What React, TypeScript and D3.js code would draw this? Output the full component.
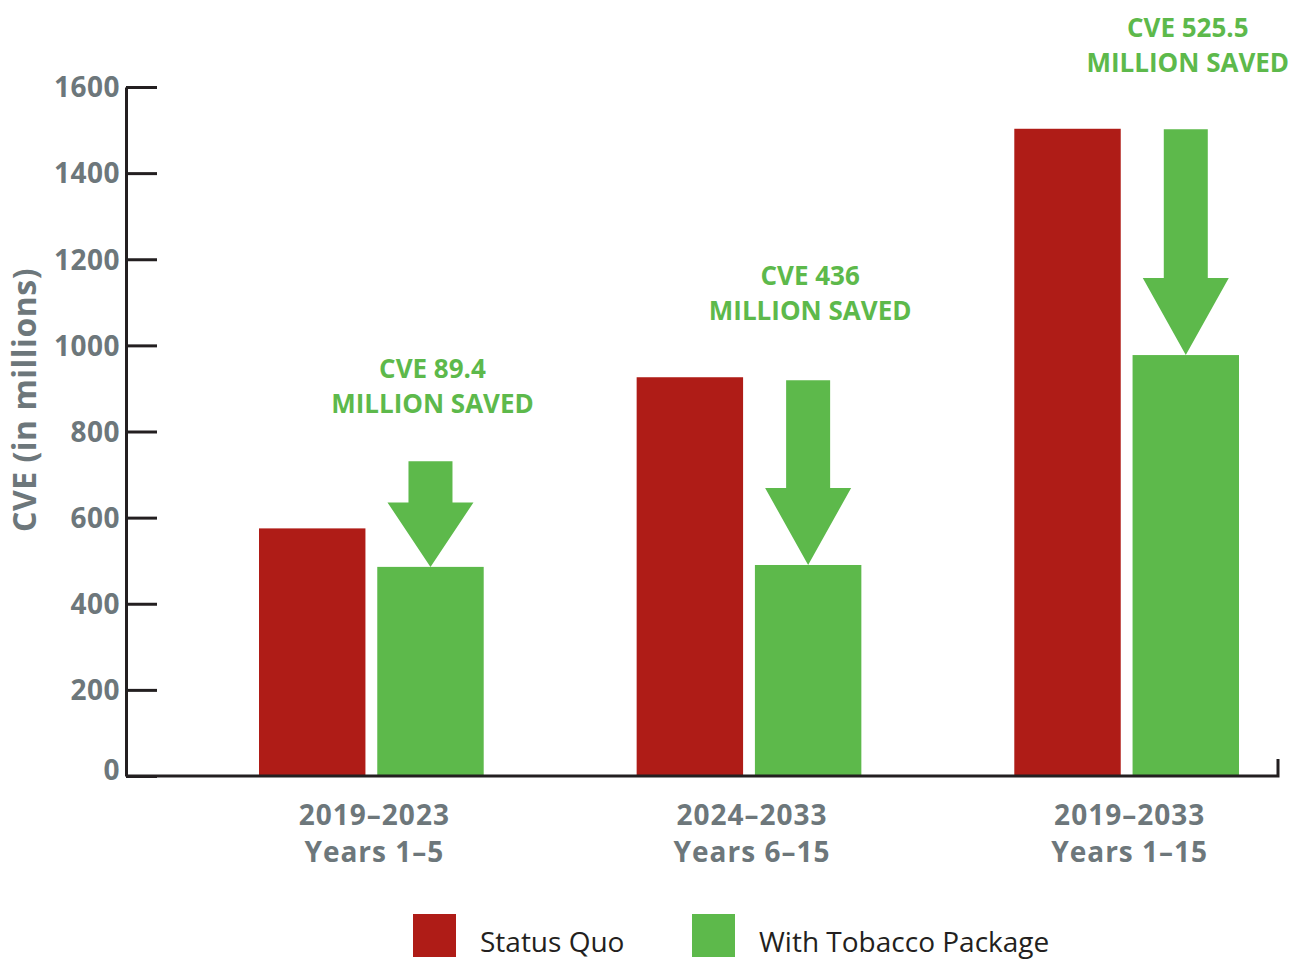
import { useEffect, useRef } from "react";
import * as d3 from "d3";

const groups = ["2019–2023", "2024–2033", "2019–2033"];
const periods = ["Years 1–5", "Years 6–15", "Years 1–15"];
const series = ["Status Quo", "With Tobacco Package"];
const statusQuo = [575, 926, 1503];
const withPackage = [485.6, 490, 977.5];
const arrowFrom = [731, 919, 1502];
const savedAmount = ["CVE 89.4", "CVE 436", "CVE 525.5"];
const yTicks = [0, 200, 400, 600, 800, 1000, 1200, 1400, 1600];

const colors = ["#af1c17", "#5db94b"];
const gray = "#6d777b";
const ink = "#231f20";

const App = () => {
  const svgRef = useRef<SVGSVGElement>(null);

  useEffect(() => {
    const svg = d3.select(svgRef.current);
    svg.selectAll("*").remove();

    const width = 1301;
    const height = 960;
    const axisX = 126;
    const axisRight = 1278;
    // gap between arrow top and the "MILLION SAVED" line, per group
    const labelGap = [48, 60, 57];

    // y scale: 0 at the baseline, 1600 at the top tick
    const y = d3.scaleLinear().domain([0, 1600]).range([776, 87]);
    const x0 = d3.scaleBand().domain(groups).range([259, 1239]).paddingInner(0.405).paddingOuter(0);
    const x1 = d3.scaleBand().domain(series).range([0, x0.bandwidth()]).paddingInner(0.1);

    svg.attr("width", width).attr("height", height);

    const rows = groups.map((g, i) => ({
      group: g,
      period: periods[i],
      values: [statusQuo[i], withPackage[i]],
      from: arrowFrom[i],
      saved: savedAmount[i],
      gap: labelGap[i],
    }));

    // bars
    const g = svg
      .selectAll("g.grp")
      .data(rows)
      .enter()
      .append("g")
      .attr("class", "grp")
      .attr("transform", (d) => `translate(${x0(d.group)},0)`);

    g.selectAll("rect")
      .data((d) => d.values.map((v, j) => ({ key: series[j], v, j })))
      .enter()
      .append("rect")
      .attr("x", (d) => x1(d.key)!)
      .attr("y", (d) => y(d.v))
      .attr("width", x1.bandwidth())
      .attr("height", (d) => y(0) - y(d.v))
      .attr("fill", (d) => colors[d.j]);

    // arrows from status quo level down to the package bar
    const shaftW = 44;
    const headW = 86;
    g.append("path")
      .attr("fill", colors[1])
      .attr("d", (d) => {
        const cx = x1(series[1])! + x1.bandwidth() / 2;
        const top = y(d.from);
        const tip = y(d.values[1]);
        const headH = Math.min(77, (tip - top) * 0.61);
        const neck = tip - headH;
        return `M${cx - shaftW / 2},${top}H${cx + shaftW / 2}V${neck}H${cx + headW / 2}L${cx},${tip}L${cx - headW / 2},${neck}H${cx - shaftW / 2}Z`;
      });

    const ann = g
      .append("text")
      .attr("text-anchor", "middle")
      .attr("fill", colors[1])
      .attr("font-family", "'Open Sans', sans-serif")
      .attr("font-weight", 700)
      .attr("font-size", 26)
      .attr("transform", (d) => `translate(${x1(series[1])! + x1.bandwidth() / 2 + 2},${y(d.from) - d.gap})`);
    ann.append("tspan").attr("x", 0).attr("dy", -35).text((d) => d.saved);
    ann.append("tspan").attr("x", 0).attr("dy", 35).text("MILLION SAVED");

    // y axis
    const yAxis = d3
      .axisLeft(y)
      .tickValues(yTicks)
      .tickSizeInner(-31)
      .tickSizeOuter(0)
      .tickPadding(6)
      .tickFormat(d3.format("d"));

    const ya = svg.append("g").attr("transform", `translate(${axisX},0)`).call(yAxis);
    ya.select(".domain").attr("stroke", ink).attr("stroke-width", 3);
    ya.selectAll(".tick line").attr("stroke", ink).attr("stroke-width", 3);
    ya.selectAll(".tick text")
      .attr("fill", gray)
      .attr("font-family", "'Open Sans', sans-serif")
      .attr("font-weight", 700)
      .attr("font-size", 28)
      .attr("letter-spacing", 0.5)
      .attr("dy", (d: any) => (d === 0 ? "0.12em" : "0.35em"));

    // baseline with the little end tick
    svg
      .append("path")
      .attr("d", `M${axisX},${y(0)}H${axisRight}V${y(0) - 17}`)
      .attr("fill", "none")
      .attr("stroke", ink)
      .attr("stroke-width", 3);

    // category labels
    const xl = svg
      .selectAll("text.xl")
      .data(rows)
      .enter()
      .append("text")
      .attr("class", "xl")
      .attr("text-anchor", "middle")
      .attr("fill", gray)
      .attr("font-family", "'Open Sans', sans-serif")
      .attr("font-weight", 700)
      .attr("font-size", 28)
      .attr("letter-spacing", 1)
      .attr("transform", (d) => `translate(${x0(d.group)! + x0.bandwidth() / 2 + 3},0)`);
    xl.append("tspan").attr("x", 0).attr("y", 825).text((d) => d.group);
    xl.append("tspan").attr("x", 0).attr("y", 862).text((d) => d.period);

    // y title
    svg
      .append("text")
      .attr("transform", `translate(36,400) rotate(-90)`)
      .attr("text-anchor", "middle")
      .attr("fill", gray)
      .attr("font-family", "'Open Sans', sans-serif")
      .attr("font-weight", 700)
      .attr("font-size", 32)
      .attr("letter-spacing", 0.5)
      .text("CVE (in millions)");

    // legend
    const legendX = [413, 692];
    const lg = svg
      .selectAll("g.lg")
      .data(series)
      .enter()
      .append("g")
      .attr("class", "lg")
      .attr("transform", (d, i) => `translate(${legendX[i]},914)`);
    lg.append("rect").attr("width", 43).attr("height", 43).attr("fill", (d, i) => colors[i]);
    lg.append("text")
      .attr("x", 67)
      .attr("y", 38)
      .attr("fill", ink)
      .attr("font-family", "'Open Sans', sans-serif")
      .attr("font-size", 28)
      .text((d) => d);
  }, []);

  return (
    <div style={{ position: "absolute", left: 0, top: 0, background: "#fff" }}>
      <svg ref={svgRef} style={{ display: "block" }}></svg>
    </div>
  );
};

export default App;
